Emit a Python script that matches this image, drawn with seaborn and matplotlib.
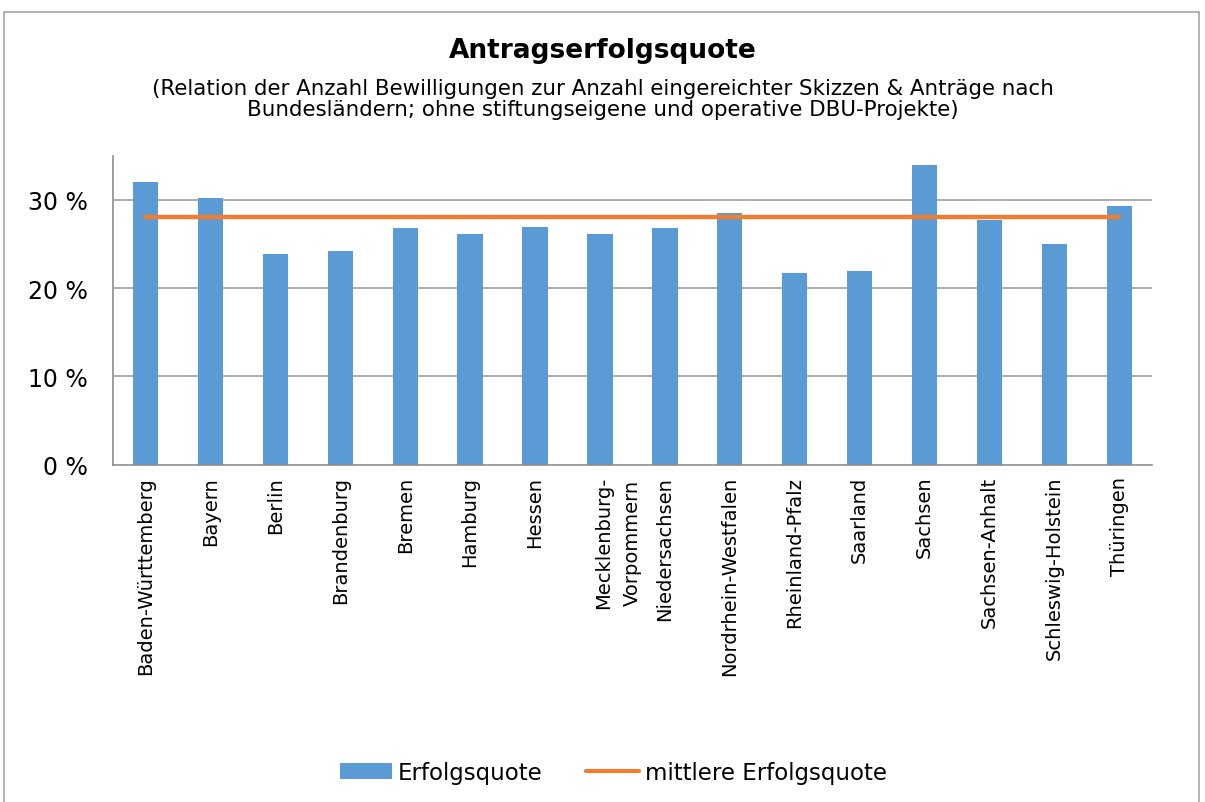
import matplotlib
matplotlib.use("Agg")
import matplotlib.pyplot as plt
import numpy as np
import pandas as pd
import seaborn as sns
from matplotlib.lines import Line2D
from matplotlib.patches import Patch, Rectangle
from matplotlib.transforms import ScaledTranslation

sns.set_theme(style="white")
plt.rcParams["font.family"] = ["DejaVu Sans"]
plt.rcParams["text.color"] = "black"
plt.rcParams["xtick.color"] = "black"
plt.rcParams["ytick.color"] = "black"

# Bundesländer and their Antragserfolgsquote (%)
states = [
    "Baden-Württemberg", "Bayern", "Berlin", "Brandenburg", "Bremen", "Hamburg",
    "Hessen", "Mecklenburg-\nVorpommern", "Niedersachsen", "Nordrhein-Westfalen",
    "Rheinland-Pfalz", "Saarland", "Sachsen", "Sachsen-Anhalt",
    "Schleswig-Holstein", "Thüringen",
]
quote = [32.0, 30.2, 23.85, 24.15, 26.75, 26.1, 26.9, 26.1, 26.8, 28.55,
         21.7, 21.95, 33.95, 27.7, 25.0, 29.3]
mean_quote = [28.0] * len(states)
y_ticks = [0, 10, 20, 30]
y_tick_labels = ["0 %", "10 %", "20 %", "30 %"]

BLUE = "#5B9BD5"
ORANGE = "#ED7D31"
GRID = "#A6A6A6"
AXIS = "#8C8C8C"

df = pd.DataFrame({"state": states, "quote": quote, "mean": mean_quote})

fig = plt.figure(figsize=(12.05, 8.03), dpi=100)
ax = fig.add_axes([0.0938, 0.42, 0.862, 0.385])

sns.barplot(data=df, x="state", y="quote", ax=ax, color=BLUE, width=0.39,
            saturation=1, edgecolor="none")
ax.plot(np.arange(len(states)), df["mean"], color=ORANGE, lw=3.2, zorder=4,
        solid_capstyle="round")

ax.set_xlim(-0.5, len(states) - 0.5)
ax.set_ylim(0, 35)
ax.set_yticks(y_ticks)
ax.set_yticklabels(y_tick_labels, fontsize=17)
ax.set_xticks(np.arange(len(states)))
ax.set_xticklabels(states, rotation=90, fontsize=14, va="top", ha="center",
                   linespacing=1.7)
ax.set_xticks(np.arange(len(states) + 1) - 0.5, minor=True)
ax.tick_params(axis="x", which="major", length=0, pad=8)
ax.tick_params(axis="x", which="minor", length=7, color=AXIS, width=1, direction="out")
ax.tick_params(axis="y", length=7, color=AXIS, width=1, direction="out", pad=11)
ax.set_xlabel("")
ax.set_ylabel("")

# two-line label sits a little right of its slot, as in the original
mv = ax.get_xticklabels()[7]
mv.set_transform(mv.get_transform() + ScaledTranslation(0.18, 0, fig.dpi_scale_trans))

for y in y_ticks[1:]:
    ax.axhline(y, color=GRID, lw=1.3, zorder=0)
for side in ["top", "right"]:
    ax.spines[side].set_visible(False)
for side in ["left", "bottom"]:
    ax.spines[side].set_color(AXIS)
    ax.spines[side].set_linewidth(1.2)

fig.text(0.5, 0.937, "Antragserfolgsquote", ha="center", va="center",
         fontsize=19, fontweight="bold")
fig.text(0.5, 0.876,
         "(Relation der Anzahl Bewilligungen zur Anzahl eingereichter Skizzen & Anträge nach\n"
         "Bundesländern; ohne stiftungseigene und operative DBU-Projekte)",
         ha="center", va="center", fontsize=15.4, linespacing=1.1)

handles = [
    Patch(facecolor=BLUE, edgecolor="none", label="Erfolgsquote"),
    Line2D([0], [0], color=ORANGE, lw=3, label="mittlere Erfolgsquote"),
]
fig.legend(handles=handles, loc="center", bbox_to_anchor=(0.509, 0.037), ncol=2,
           frameon=False, fontsize=16.5, handlelength=2.3, handleheight=0.7,
           columnspacing=1.9, handletextpad=0.25)

fig.patches.append(Rectangle((0.0035, -0.01), 0.9915, 0.994, transform=fig.transFigure,
                             fill=False, edgecolor="#A6A6A6", lw=1.2))

fig.savefig("out.png", dpi=100)
